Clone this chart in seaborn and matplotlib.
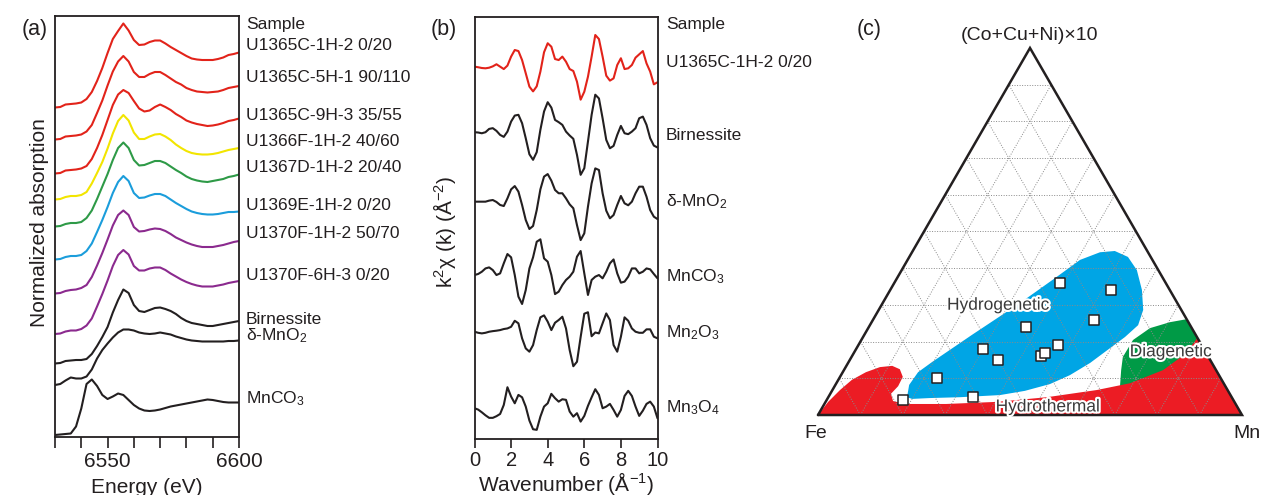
import numpy as np
import pandas as pd
import matplotlib
matplotlib.use("Agg")
import matplotlib.pyplot as plt
import matplotlib.patheffects as pe
import seaborn as sns

# ---------------- data ----------------
# (a) Mn K-edge XANES, normalized absorption (each spectrum starts at 0)
energy_ev = list(range(6530, 6601, 2))
xanes_labels = ["U1365C-1H-2 0/20", "U1365C-5H-1 90/110", "U1365C-9H-3 35/55",
                "U1366F-1H-2 40/60", "U1367D-1H-2 20/40", "U1369E-1H-2 0/20",
                "U1370F-1H-2 50/70", "U1370F-6H-3 0/20", "Birnessite",
                "δ-MnO$_2$", "MnCO$_3$"]
u1365c_1h2 = [0, 0.01, 0.06, 0.07, 0.08, 0.10, 0.17, 0.31, 0.53, 0.79, 1.09, 1.37, 1.53, 1.68, 1.54, 1.35, 1.25, 1.26,
              1.31, 1.34, 1.34, 1.28, 1.21, 1.15, 1.09, 1.03, 0.98, 0.96, 0.95, 0.95, 0.95, 0.97, 1.00, 1.05, 1.07, 1.10]
u1365c_5h1 = [0, 0.01, 0.06, 0.07, 0.08, 0.10, 0.16, 0.29, 0.53, 0.78, 1.08, 1.36, 1.56, 1.67, 1.56, 1.35, 1.25, 1.25,
              1.31, 1.35, 1.35, 1.29, 1.22, 1.15, 1.10, 1.03, 0.99, 0.96, 0.95, 0.94, 0.95, 0.96, 0.99, 1.03, 1.05, 1.07]
u1365c_9h3 = [0, 0.01, 0.06, 0.07, 0.08, 0.10, 0.15, 0.29, 0.51, 0.77, 1.07, 1.37, 1.58, 1.67, 1.61, 1.45, 1.30, 1.24,
              1.26, 1.33, 1.38, 1.33, 1.27, 1.19, 1.13, 1.06, 1.02, 0.99, 0.97, 0.95, 0.96, 0.98, 1.01, 1.05, 1.07, 1.10]
u1366f_1h2 = [0, 0.01, 0.05, 0.07, 0.07, 0.09, 0.15, 0.32, 0.53, 0.75, 1.02, 1.32, 1.57, 1.69, 1.58, 1.34, 1.21, 1.21,
              1.26, 1.30, 1.31, 1.26, 1.19, 1.10, 1.03, 0.97, 0.93, 0.91, 0.90, 0.90, 0.91, 0.93, 0.96, 0.99, 1.01, 1.03]
u1367d_1h2 = [0, 0.01, 0.05, 0.07, 0.07, 0.09, 0.17, 0.32, 0.55, 0.80, 1.05, 1.33, 1.57, 1.68, 1.57, 1.33, 1.22, 1.23,
              1.27, 1.31, 1.31, 1.27, 1.20, 1.13, 1.07, 1.00, 0.95, 0.92, 0.90, 0.89, 0.91, 0.93, 0.95, 0.99, 1.01, 1.04]
u1369e_1h2 = [0, 0.01, 0.05, 0.07, 0.07, 0.09, 0.17, 0.32, 0.55, 0.79, 1.05, 1.33, 1.55, 1.67, 1.57, 1.33, 1.23, 1.24,
              1.28, 1.31, 1.31, 1.27, 1.20, 1.13, 1.07, 1.01, 0.96, 0.93, 0.91, 0.90, 0.90, 0.91, 0.93, 0.95, 0.95, 0.96]
u1370f_1h2 = [0, 0.01, 0.05, 0.07, 0.08, 0.11, 0.17, 0.33, 0.56, 0.81, 1.08, 1.36, 1.57, 1.66, 1.57, 1.33, 1.24, 1.25,
              1.28, 1.30, 1.29, 1.25, 1.19, 1.12, 1.07, 1.02, 0.98, 0.95, 0.93, 0.93, 0.93, 0.95, 0.97, 1.00, 1.03, 1.05]
u1370f_6h3 = [0, 0.01, 0.05, 0.07, 0.07, 0.10, 0.17, 0.31, 0.55, 0.80, 1.07, 1.36, 1.58, 1.68, 1.59, 1.36, 1.27, 1.27,
              1.31, 1.33, 1.33, 1.28, 1.21, 1.15, 1.09, 1.04, 1.00, 0.97, 0.95, 0.95, 0.95, 0.97, 0.99, 1.02, 1.04, 1.06]
birnessite_xanes = [0, 0.01, 0.05, 0.06, 0.07, 0.07, 0.09, 0.19, 0.35, 0.53, 0.73, 1.02, 1.27, 1.48, 1.41, 1.17, 1.05,
                    1.03, 1.07, 1.11, 1.12, 1.09, 1.05, 0.99, 0.91, 0.85, 0.81, 0.79, 0.77, 0.75, 0.75, 0.77, 0.79,
                    0.81, 0.83, 0.85]
dmno2_xanes = [0, 0.02, 0.09, 0.15, 0.13, 0.13, 0.17, 0.31, 0.53, 0.70, 0.83, 0.95, 1.05, 1.11, 1.11, 1.09, 1.05, 1.03,
               1.02, 1.03, 1.05, 1.03, 1.01, 0.97, 0.94, 0.91, 0.89, 0.88, 0.87, 0.87, 0.87, 0.87, 0.87, 0.88, 0.88, 0.89]
mnco3_xanes = [0, 0.01, 0.02, 0.03, 0.17, 0.53, 1.02, 1.11, 0.98, 0.80, 0.72, 0.77, 0.83, 0.80, 0.70, 0.60, 0.53, 0.49,
               0.48, 0.49, 0.51, 0.54, 0.57, 0.59, 0.61, 0.63, 0.65, 0.67, 0.69, 0.71, 0.70, 0.68, 0.66, 0.65, 0.65, 0.65]
xanes_series = [u1365c_1h2, u1365c_5h1, u1365c_9h3, u1366f_1h2, u1367d_1h2, u1369e_1h2,
                u1370f_1h2, u1370f_6h3, birnessite_xanes, dmno2_xanes, mnco3_xanes]

# (b) Mn K-edge EXAFS k2chi(k)
wavenumber = [round(0.2 * i, 1) for i in range(51)]
exafs_labels = ["U1365C-1H-2 0/20", "Birnessite", "δ-MnO$_2$", "MnCO$_3$", "Mn$_2$O$_3$", "Mn$_3$O$_4$"]
u1365c_1h2_exafs = [0, -0.04, -0.09, -0.11, -0.07, 0.02, 0.16, 0.0, -0.16, 0.07, 0.67, 1.11, 1.04, 0.44, -0.44, -1.33,
                    -1.65, -1.31, -0.33, 0.96, 1.56, 1.33, 0.51, 0.44, 0.67, 0.33, -0.16, -0.29, -1.0, -2.2, -1.67,
                    -0.67, 0.67, 2.11, 1.84, 0.67, -0.6, -0.93, -0.78, 0.11, 0.56, -0.16, -0.11, 0.11, 0.6, 0.82,
                    1.04, 0.22, -0.33, -1.18, -1.04]
birnessite_exafs = [0, -0.02, -0.07, 0, 0.22, 0.27, 0.09, -0.18, -0.31, 0.04, 0.71, 1.11, 1.16, 0.6, -0.4, -1.47,
                    -1.84, -1.33, 0.16, 1.38, 2.0, 1.64, 0.82, 0.67, 0.49, 0.04, -0.22, -0.44, -1.51, -2.84, -2.4,
                    -0.62, 1.16, 2.5, 2.25, 0.93, -0.51, -1.07, -0.91, -0.18, 0.42, -0.07, -0.13, 0.04, 0.27, 0.93,
                    1.04, 0.49, -0.4, -0.89, -1.02]
dmno2_exafs = [0, 0, 0, 0, 0.07, 0.11, -0.02, -0.22, -0.29, 0.22, 0.82, 1.04, 0.67, -0.22, -1.22, -1.82, -1.62, -0.56,
               0.82, 1.67, 1.84, 1.4, 0.78, 0.56, 0.56, 0.22, -0.18, -0.44, -1.56, -2.56, -2.11, -0.33, 1.22, 2.22,
               2.11, 0.56, -0.6, -1.11, -0.89, -0.22, 0.38, -0.11, -0.24, 0, 0.56, 1.0, 1.0, 0.33, -0.56, -1.0, -1.16]
mnco3_exafs = [0, 0.07, 0.22, 0.44, 0.51, 0.33, 0, 0.11, 0.78, 1.4, 1.18, 0, -1.44, -1.93, -1.0, 0.44, 1.18, 2.22, 2.38,
               1.11, 0.89, 0, -1.27, -1.11, -0.67, -0.33, -0.11, 0.22, 1.22, 1.6, 0.11, -1.33, -0.33, -0.11, 0, -0.22,
               0.22, 0.78, 1.04, 0.11, -0.51, -0.44, -0.11, 0.44, 0.44, 0.11, 0.22, 0.44, 0.38, 0.07, -0.22]
mn2o3_exafs = [0, -0.07, -0.11, -0.07, 0, 0.04, 0.07, 0.11, 0.18, 0.22, 0.33, 0.73, 0.56, -0.44, -1.11, -1.33, -0.89,
               0.11, 0.96, 1.09, 0.67, 0.11, 0.6, 0.78, 1.0, 0.22, -1.22, -2.3, -2.0, -0.35, 1.2, 1.3, -0.3, -0.05,
               -0.11, 0.56, 1.22, 0.78, -0.89, -1.33, -0.33, 0.96, 0.73, 0.22, 0, -0.07, -0.07, 0.16, 0.16, -0.33,
               -0.44]
mn3o4_exafs = [0, -0.09, -0.27, -0.47, -0.64, -0.64, -0.53, -0.38, 0.22, 1.4, 0.78, 0.33, 0.89, 0.73, 0.11, -0.82,
               -1.4, -1.44, -0.56, 0.11, 0.33, 0.96, 0.67, 0.44, 0.6, 0.56, -0.22, -0.56, -0.33, -0.89, -0.51, 0.16,
               0.73, 1.27, 0.89, 0, 0.11, 0.29, -0.11, -0.56, -0.11, 0.82, 1.16, 0.82, 0.11, -0.51, -0.16, 0.29,
               0.44, 0.11, -0.67]
exafs_series = [u1365c_1h2_exafs, birnessite_exafs, dmno2_exafs, mnco3_exafs, mn2o3_exafs, mn3o4_exafs]

# (c) ternary composition (%) of the samples
fe_pct = [78, 61, 67, 50, 52, 39, 39.5, 38, 34, 22, 25, 14]
mn_pct = [18, 34, 23, 35, 30, 37, 44.5, 45, 47, 52, 39, 52]
ccn_pct = [4, 5, 10, 15, 18, 24, 16, 17, 19, 26, 36, 34]

# genetic fields (outline in ternary-plot coordinates)
hydrogenetic_x = [0.210, 0.215, 0.236, 0.269, 0.363, 0.476, 0.559, 0.618, 0.665, 0.700, 0.731, 0.752, 0.764, 0.767,
                  0.755, 0.724, 0.689, 0.642, 0.594, 0.547, 0.488, 0.429, 0.335, 0.264, 0.222]
hydrogenetic_y = [0.042, 0.071, 0.101, 0.125, 0.189, 0.264, 0.323, 0.366, 0.384, 0.387, 0.373, 0.342, 0.295, 0.248,
                  0.212, 0.184, 0.158, 0.123, 0.094, 0.073, 0.057, 0.047, 0.042, 0.040, 0.038]
diagenetic_x = [0.712, 0.715, 0.719, 0.743, 0.783, 0.830, 0.869, 0.901, 0.854, 0.712]
diagenetic_y = [0.064, 0.106, 0.137, 0.177, 0.205, 0.219, 0.226, 0.172, 0.083, 0.047]
hydrothermal_x = [0.0, 0.024, 0.052, 0.080, 0.113, 0.146, 0.175, 0.193, 0.200, 0.189, 0.172, 0.177, 0.205, 0.302,
                  0.422, 0.540, 0.658, 0.736, 0.814, 0.866, 0.895, 1.0]
hydrothermal_y = [0.0, 0.031, 0.059, 0.083, 0.101, 0.113, 0.116, 0.108, 0.090, 0.068, 0.050, 0.033, 0.026, 0.026,
                  0.031, 0.042, 0.059, 0.075, 0.106, 0.144, 0.182, 0.0]

# ---------------- style ----------------
sns.set_style("ticks")
plt.rcParams["font.family"] = ["Liberation Sans", "DejaVu Sans"]
plt.rcParams["mathtext.fontset"] = "custom"
plt.rcParams["mathtext.rm"] = "Liberation Sans"
plt.rcParams["mathtext.it"] = "Liberation Sans:italic"
plt.rcParams["mathtext.default"] = "regular"

INK = "#231F20"
xanes_colors = ["#E2231A", "#E2231A", "#E2231A", "#F2E500", "#2E9A47", "#1B9DDB",
                "#8B2A8E", "#8B2A8E", INK, INK, INK]
xanes_offsets = [6.59, 5.95, 5.27, 4.75, 4.21, 3.55, 2.87, 2.06, 1.47, 1.04, 0.04]
xanes_label_y = [45, 78, 116, 141, 167, 206, 234, 276, 319, 336, 399]
exafs_colors = ["#E2231A", INK, INK, INK, INK, INK]
exafs_offsets = [24.82, 20.45, 15.82, 10.93, 7.15, 2.05]
exafs_label_y = [63, 135, 202, 277, 333, 408]

W, H = 1265, 495
fig = plt.figure(figsize=(W / 100, H / 100), dpi=100)


def fx(x):
    return x / W


def fy(y):
    return 1 - y / H


LABEL_FS = 12.5
line_kw = dict(linewidth=1.5, estimator=None, sort=False, legend=False,
               solid_joinstyle="round", solid_capstyle="round")

# ---------------- (a) ----------------
ax1 = fig.add_axes([fx(55), fy(437), (239 - 55) / W, (437 - 16) / H])
for vals, off, col in zip(xanes_series, xanes_offsets, xanes_colors):
    sns.lineplot(x=energy_ev, y=np.array(vals) + off, ax=ax1, color=col, **line_kw)
ax1.set_xlim(6530, 6600)
ax1.set_ylim(0, 8.42)
ax1.set_yticks([])
xt = list(range(6530, 6601, 10))
ax1.set_xticks(xt)
ax1.set_xticklabels([str(t) if t in (6550, 6600) else "" for t in xt])
ax1.tick_params(axis="x", direction="out", length=8, width=1.2, pad=3, labelsize=15, colors=INK)
ax1.set_xlabel("Energy (eV)", fontsize=15, color=INK, va="top")
ax1.xaxis.set_label_coords(0.5, -0.098)
ax1.set_ylabel("Normalized absorption", fontsize=15, color=INK, va="center")
ax1.yaxis.set_label_coords(-0.083, 0.51)
fig.text(fx(35), fy(29), "(a)", fontsize=15.5, ha="center", va="center", color=INK)
fig.text(fx(246), fy(24), "Sample", fontsize=LABEL_FS, va="center", color=INK)
for lab, yy in zip(xanes_labels, xanes_label_y):
    fig.text(fx(246), fy(yy), lab, fontsize=LABEL_FS, va="center", color=INK)

# ---------------- (b) ----------------
ax2 = fig.add_axes([fx(474.5), fy(439), (657.5 - 474.5) / W, (439 - 17) / H])
for vals, off, col in zip(exafs_series, exafs_offsets, exafs_colors):
    sns.lineplot(x=wavenumber, y=np.array(vals) + off, ax=ax2, color=col, **line_kw)
ax2.set_xlim(0, 10)
ax2.set_ylim(0, 28.13)
ax2.set_yticks([])
ax2.set_xticks([0, 2, 4, 6, 8, 10])
ax2.tick_params(axis="x", direction="out", length=6.5, width=1.2, pad=2.5, labelsize=14.5, colors=INK)
ax2.set_xlabel("Wavenumber (Å$^{-1}$)", fontsize=15, color=INK, va="top")
ax2.xaxis.set_label_coords(0.5, -0.074)
ax2.set_ylabel("k$^{2}$χ (k) (Å$^{-2}$)", fontsize=15, color=INK, va="center")
ax2.yaxis.set_label_coords(-0.163, 0.49)
fig.text(fx(444), fy(29), "(b)", fontsize=15.5, ha="center", va="center", color=INK)
fig.text(fx(666), fy(24), "Sample", fontsize=LABEL_FS, va="center", color=INK)
for lab, yy in zip(exafs_labels, exafs_label_y):
    fig.text(fx(666), fy(yy), lab, fontsize=LABEL_FS, va="center", color=INK)

for ax in (ax1, ax2):
    for sp in ax.spines.values():
        sp.set_linewidth(1.3)
        sp.set_color(INK)

# ---------------- (c) ternary ----------------
S3 = np.sqrt(3) / 2
ax3 = fig.add_axes([fx(818), fy(415), 424 / W, 367 / H])
ax3.set_xlim(0, 1)
ax3.set_ylim(0, S3)
ax3.axis("off")

ax3.fill(hydrogenetic_x, hydrogenetic_y, color="#00A5E5", lw=0, zorder=1)
ax3.fill(diagenetic_x, diagenetic_y, color="#009A46", lw=0, zorder=1)
ax3.fill(hydrothermal_x, hydrothermal_y, color="#EC1C24", lw=0, zorder=2)

grid_kw = dict(color="#8a8a8a", lw=0.7, ls=(0, (1, 1.6)), zorder=3)
for i in range(1, 10):
    f = i / 10
    ax3.plot([f / 2, 1 - f / 2], [f * S3, f * S3], **grid_kw)          # constant (Co+Cu+Ni)
    ax3.plot([f, f + (1 - f) / 2], [0, (1 - f) * S3], **grid_kw)      # constant Mn
    ax3.plot([1 - f, (1 - f) / 2], [0, (1 - f) * S3], **grid_kw)      # constant Fe
ax3.plot([0, 1, 0.5, 0], [0, 0, S3, 0], color=INK, lw=1.8, zorder=4, clip_on=False,
         solid_joinstyle="miter")

tern = pd.DataFrame({"Fe": fe_pct, "Mn": mn_pct, "CCN": ccn_pct})
tot = tern[["Fe", "Mn", "CCN"]].sum(axis=1)
tern["X"] = (tern["Mn"] + tern["CCN"] / 2) / tot
tern["Y"] = tern["CCN"] / tot * S3
for _, r in tern.iterrows():
    sns.scatterplot(x=[r["X"]], y=[r["Y"]], ax=ax3, marker="s", s=52, color="white",
                    edgecolor=INK, linewidth=1.1, zorder=6, legend=False, clip_on=False)

halo = [pe.withStroke(linewidth=3, foreground="white")]
ax3.text(0.425, 0.259, "Hydrogenetic", fontsize=12.5, ha="center", va="center", color="#3a3a3a",
         path_effects=halo, zorder=7)
ax3.text(0.832, 0.149, "Diagenetic", fontsize=12.5, ha="center", va="center", color="#3a3a3a",
         path_effects=halo, zorder=7)
ax3.text(0.542, 0.019, "Hydrothermal", fontsize=12.5, ha="center", va="center", color="#3a3a3a",
         path_effects=halo, zorder=7)

fig.text(fx(1030), fy(35), "(Co+Cu+Ni)×10", fontsize=14, ha="center", va="center", color=INK)
fig.text(fx(816), fy(433), "Fe", fontsize=14, ha="center", va="center", color=INK)
fig.text(fx(1233), fy(433), "Mn", fontsize=14, ha="left", va="center", color=INK)
fig.text(fx(869), fy(29), "(c)", fontsize=15.5, ha="center", va="center", color=INK)

fig.savefig("out.png", dpi=100)
